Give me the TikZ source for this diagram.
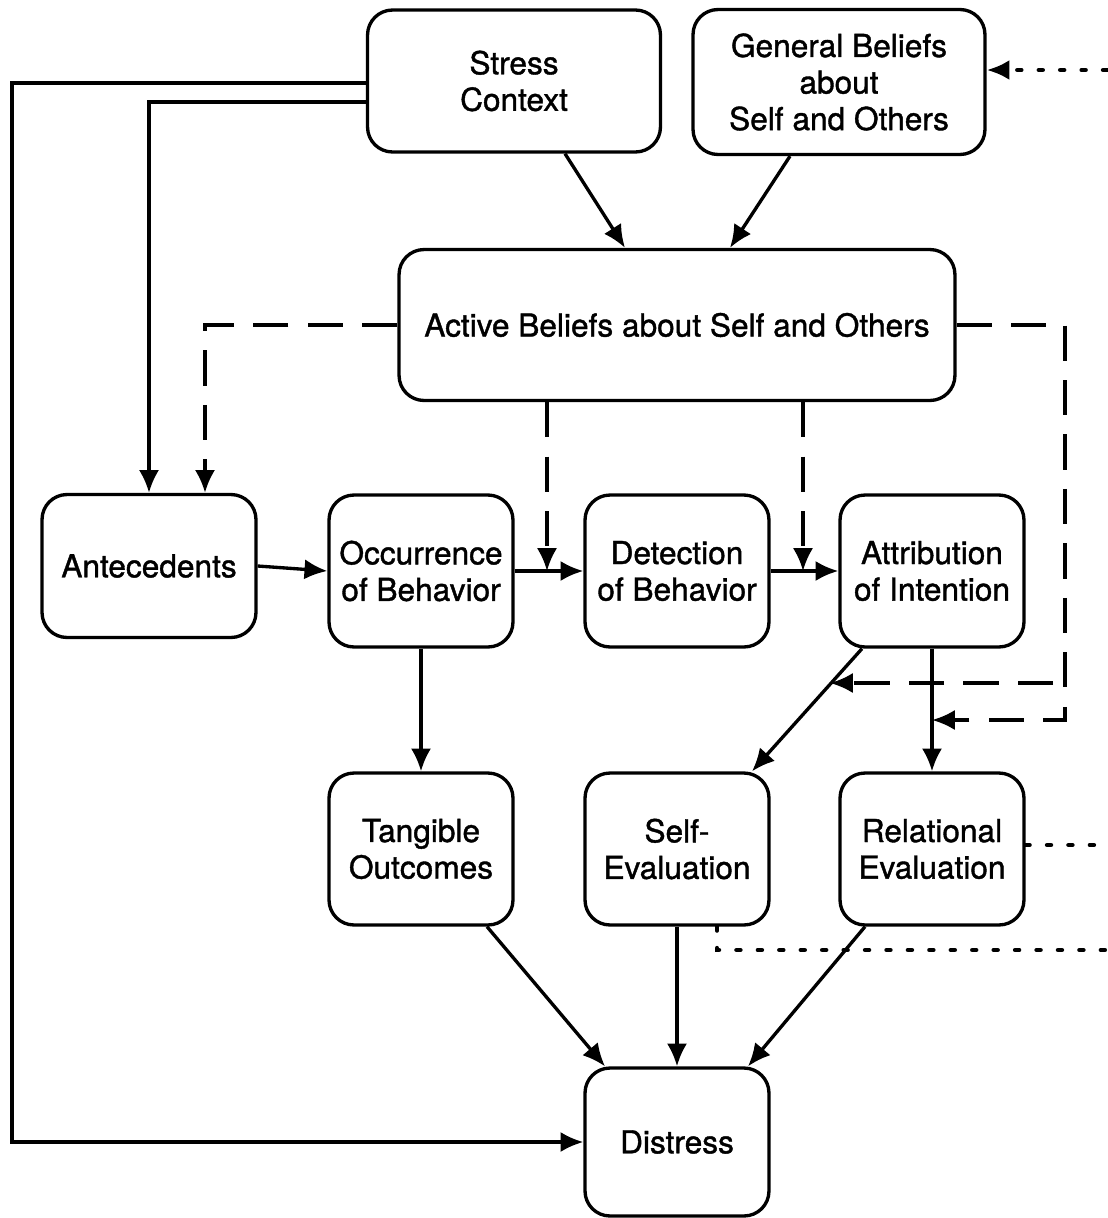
\documentclass[tikz,border=0pt]{standalone}
\usepackage{fontspec}
\setmainfont{TeX Gyre Heros}[UprightFeatures={FakeBold=1.2}]
\usetikzlibrary{arrows.meta}

\begin{document}
\begin{tikzpicture}[x=0.02cm,y=-0.02cm,>={Latex[length=13pt,width=11.5pt]},
	box/.style={draw,line width=1.9pt,rounded corners=0.5cm,align=center,inner sep=2pt,
		font=\fontsize{18}{20.8}\selectfont},
	line/.style={line width=1.9pt},
	dashline/.style={line width=1.9pt,dash pattern=on 20pt off 11pt},
	dotline/.style={line width=2.6pt,line cap=round,dash pattern=on 2.2pt off 10pt}]

\useasboundingbox (0,0) rectangle (1107,1218);

\def\bw{3.68cm}
\def\bh{3.04cm}

% top row
\node[box,minimum width=5.86cm,minimum height=2.84cm] (stress) at (514,81) {Stress\\Context};
\node[box,minimum width=5.84cm,minimum height=2.9cm] (general) at (839,82) {General Beliefs\\about\\Self and Others};
\node[box,minimum width=11.12cm,minimum height=3.02cm] (active) at (677,325) {Active Beliefs about Self and Others};

% middle row
\node[box,minimum width=4.28cm,minimum height=2.86cm] (antec) at (149,566) {Antecedents};
\node[box,minimum width=\bw,minimum height=\bh] (occur) at (421,571) {Occurrence\\of Behavior};
\node[box,minimum width=\bw,minimum height=\bh] (detect) at (677,571) {Detection\\of Behavior};
\node[box,minimum width=\bw,minimum height=\bh] (attrib) at (932,571) {Attribution\\of Intention};

% lower rows
\node[box,minimum width=\bw,minimum height=\bh] (tangible) at (421,849) {Tangible\\Outcomes};
\node[box,minimum width=\bw,minimum height=\bh] (selfeval) at (677,849) {Self-\\Evaluation};
\node[box,minimum width=\bw,minimum height=\bh] (releval) at (932,849) {Relational\\Evaluation};
\node[box,minimum width=\bw,minimum height=2.96cm] (distress) at (677,1142) {Distress};

\coordinate (dashin) at (1053,683);
\coordinate (dotin) at (1107,70);
\coordinate (dotout1) at (1107,845);
\coordinate (dotout2) at (1107,950);

% solid
\draw[line,->] (stress.west |- 0,83) -| (12,1142) -- (distress.west);
\draw[line,->] (stress.west |- 0,102) -| (antec.north);
\draw[line,->] (stress.south -| 565,0) -- (active.north -| 625,0);
\draw[line,->] (general.south -| 790,0) -- (active.north -| 730,0);
\draw[line,->] (antec.east) -- (occur.west);
\draw[line,->] (occur.east) -- (detect.west);
\draw[line,->] (detect.east) -- (attrib.west);
\draw[line,->] (occur.south) -- (tangible.north);
\draw[line,->] (attrib.south -| 862,0) -- (selfeval.north -| 752,0);
\draw[line,->] (attrib.south) -- (releval.north);
\draw[line,->] (tangible.south -| 487,0) -- (distress.north -| 605,0);
\draw[line,->] (selfeval.south) -- (distress.north);
\draw[line,->] (releval.south -| 865,0) -- (distress.north -| 748,0);

% dashed
\draw[dashline,->] (active.west) -| (antec.north -| 205,0);
\draw[dashline,->] (active.south -| 547,0) -- (occur.east -| 547,0);
\draw[dashline,->] (active.south -| 803,0) -- (detect.east -| 803,0);
\draw[dashline,->] (active.east) -| (1065,720) -- (attrib.south |- 0,720);
\draw[dashline,->] (dashin) -- (830,683);

% dotted
\draw[dotline,->] (dotin) -- (general.east |- dotin);
\draw[dotline] (releval.east |- dotout1) -- (dotout1);
\draw[dotline] (selfeval.south -| 717,0) -- (717,950) -- (dotout2);

\end{tikzpicture}
\end{document}
